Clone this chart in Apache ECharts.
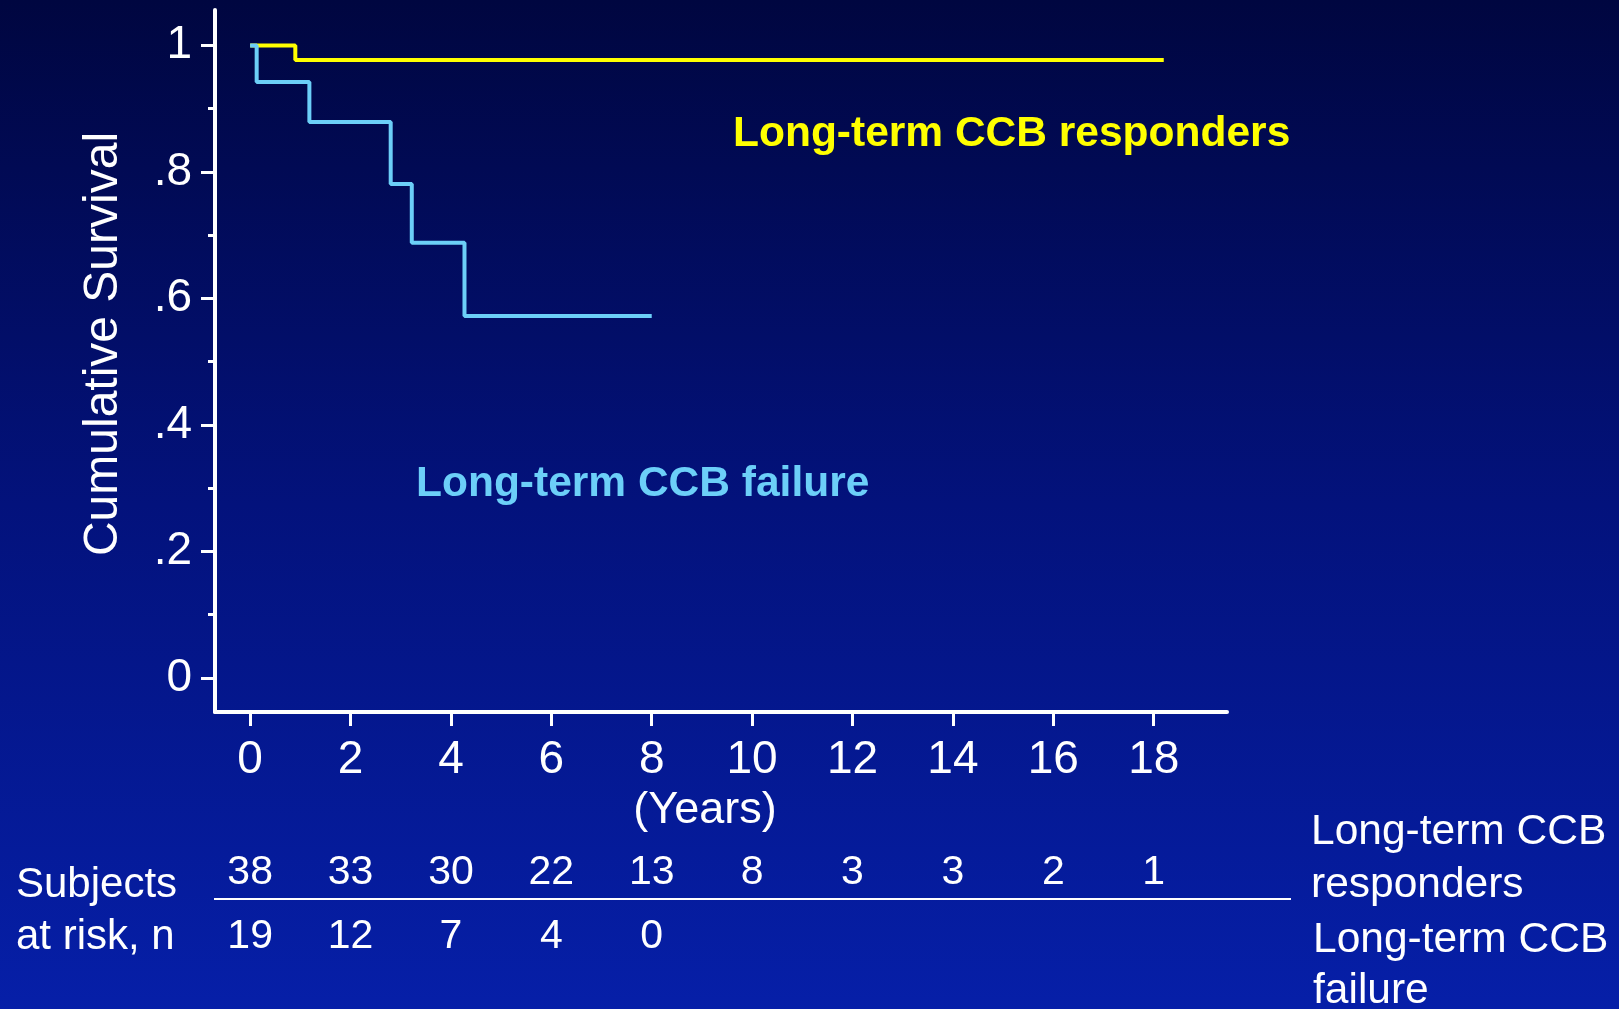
<!DOCTYPE html>
<html>
<head>
<meta charset="utf-8">
<title>Cumulative Survival</title>
<script src="https://cdn.jsdelivr.net/npm/echarts@6.0.0/dist/echarts.min.js"></script>
<style>
html,body{margin:0;padding:0;width:100%;height:100%;overflow:hidden;background:#03105e;}
#chart{width:1619px;height:1009px;}
</style>
</head>
<body>
<div id="chart"></div>
<script>
// Kaplan-Meier steps, [year, cumulative survival] at each change
var respondersCurve = [[0, 1], [0.9, 0.977], [18.2, 0.977]];
var failureCurve = [[0, 1], [0.13, 0.942], [1.18, 0.879], [2.8, 0.781], [3.22, 0.688], [4.27, 0.572], [8, 0.572]];

// ticks
var xTicks = [0, 2, 4, 6, 8, 10, 12, 14, 16, 18];
var yMajor = [0, 0.2, 0.4, 0.6, 0.8, 1];
var yMinor = [0.1, 0.3, 0.5, 0.7, 0.9];

// subjects at risk
var riskYears = [0, 2, 4, 6, 8, 10, 12, 14, 16, 18];
var riskResponders = [38, 33, 30, 22, 13, 8, 3, 3, 2, 1];
var riskFailure = [19, 12, 7, 4, 0];

var yellow = '#ffff00';
var cyan = '#6ccff8';
var font = '"Liberation Sans", Arial, sans-serif';

function riskRow(vals, row) {
    var out = [];
    for (var i = 0; i < vals.length; i++) {
        out.push([riskYears[i], row, vals[i]]);
    }
    return out;
}

function yLabel(v) {
    if (v === 0) return '0';
    if (v === 1) return '1';
    return String(v).replace('0.', '.');
}

var myChart = echarts.init(document.getElementById('chart'));

var option = {
    animation: false,
    backgroundColor: new echarts.graphic.LinearGradient(0, 0, 0, 1, [
        {offset: 0, color: '#000640'},
        {offset: 0.5, color: '#03127c'},
        {offset: 1, color: '#061fa8'}
    ]),
    textStyle: {fontFamily: font},
    grid: [
        {left: 215, top: 10, width: 1012, height: 702},
        {left: 215, top: 841, width: 1012, height: 128}
    ],
    xAxis: [{
        type: 'value', gridIndex: 0, min: -0.7, max: 19.46,
        name: '(Years)', nameLocation: 'middle', nameGap: 63,
        nameTextStyle: {color: '#fff', fontSize: 45, fontFamily: font, padding: [0, 32, 0, 0]},
        axisLine: {show: true, onZero: false, lineStyle: {color: '#fff', width: 4}},
        axisTick: {show: true, customValues: xTicks, length: 14, lineStyle: {color: '#fff', width: 3}},
        axisLabel: {show: true, customValues: xTicks, color: '#fff', fontSize: 46, margin: 25, fontFamily: font},
        splitLine: {show: false}
    }, {
        type: 'value', gridIndex: 1, min: -0.7, max: 19.46, show: false
    }],
    yAxis: [{
        type: 'value', gridIndex: 0, min: -0.054, max: 1.056, position: 'left',
        name: 'Cumulative Survival', nameLocation: 'middle', nameGap: 87,
        nameTextStyle: {color: '#fff', fontSize: 48, fontFamily: font, padding: [0, 0, 0, 34]},
        axisLine: {show: true, onZero: false, lineStyle: {color: '#fff', width: 4}},
        axisTick: {show: true, customValues: yMajor, length: 14, lineStyle: {color: '#fff', width: 3}},
        axisLabel: {show: true, customValues: yMajor, color: '#fff', fontSize: 46, margin: 23, fontFamily: font, formatter: yLabel},
        splitLine: {show: false}
    }, {
        type: 'value', gridIndex: 0, min: -0.054, max: 1.056, position: 'left',
        axisLine: {show: false, onZero: false},
        axisTick: {show: true, customValues: yMinor, length: 7, lineStyle: {color: '#fff', width: 3}},
        axisLabel: {show: false},
        splitLine: {show: false}
    }, {
        type: 'value', gridIndex: 1, min: 0, max: 2, show: false
    }],
    series: [{
        name: 'Long-term CCB responders', type: 'line', xAxisIndex: 0, yAxisIndex: 0,
        step: 'end', symbol: 'none', data: respondersCurve,
        lineStyle: {color: yellow, width: 4}
    }, {
        name: 'Long-term CCB failure', type: 'line', xAxisIndex: 0, yAxisIndex: 0,
        step: 'end', symbol: 'none', data: failureCurve,
        lineStyle: {color: cyan, width: 4}
    }, {
        type: 'scatter', xAxisIndex: 1, yAxisIndex: 2, symbolSize: 1,
        itemStyle: {color: 'rgba(0,0,0,0)', opacity: 1},
        data: riskRow(riskResponders, 1.5).concat(riskRow(riskFailure, 0.5)),
        label: {
            show: true, position: 'inside', color: '#ffffff', opacity: 1, fontSize: 41, fontFamily: font,
            formatter: function (p) { return p.value[2]; }
        }
    }],
    graphic: [
        {type: 'text', x: 733, y: 134, style: {text: 'Long-term CCB responders', fill: yellow, font: 'bold 42.5px ' + font, verticalAlign: 'middle'}},
        {type: 'text', x: 416, y: 484, style: {text: 'Long-term CCB failure', fill: cyan, font: 'bold 42.5px ' + font, verticalAlign: 'middle'}},
        {type: 'line', shape: {x1: 214, y1: 899, x2: 1291, y2: 899}, style: {stroke: '#fff', lineWidth: 2}},
        {type: 'text', x: 16, y: 885, style: {text: 'Subjects', fill: '#fff', font: '42px ' + font, verticalAlign: 'middle'}},
        {type: 'text', x: 16, y: 937, style: {text: 'at risk, n', fill: '#fff', font: '42px ' + font, verticalAlign: 'middle'}},
        {type: 'text', x: 1311, y: 832, style: {text: 'Long-term CCB', fill: '#fff', font: '42.5px ' + font, verticalAlign: 'middle'}},
        {type: 'text', x: 1311, y: 885, style: {text: 'responders', fill: '#fff', font: '42.5px ' + font, verticalAlign: 'middle'}},
        {type: 'text', x: 1313, y: 940, style: {text: 'Long-term CCB', fill: '#fff', font: '42.5px ' + font, verticalAlign: 'middle'}},
        {type: 'text', x: 1313, y: 991, style: {text: 'failure', fill: '#fff', font: '42.5px ' + font, verticalAlign: 'middle'}}
    ]
};

myChart.setOption(option);
</script>
</body>
</html>
